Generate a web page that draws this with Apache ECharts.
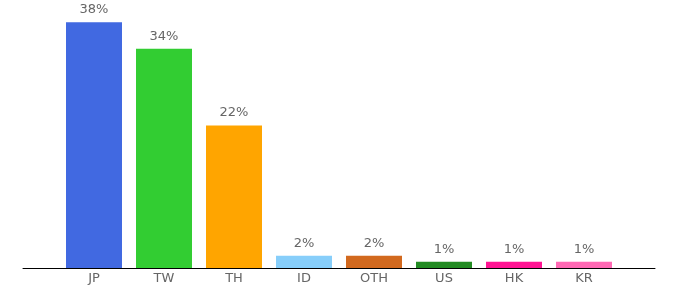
<!DOCTYPE html>
<html>
<head>
<meta charset="utf-8">
<script src="https://cdn.jsdelivr.net/npm/echarts@6/dist/echarts.min.js"></script>
<style>html,body{margin:0;padding:0;background:#fff}#c{width:680px;height:300px}</style>
</head>
<body>
<div id="c"></div>
<script>
const categories = ['JP', 'TW', 'TH', 'ID', 'OTH', 'US', 'HK', 'KR'];
const values = [38.1, 34, 22.1, 1.9, 1.9, 0.95, 0.95, 0.95];
const labels = ['38%', '34%', '22%', '2%', '2%', '1%', '1%', '1%'];
const colors = ['#4169E1', '#32CD32', '#FFA500', '#87CEFA', '#D2691E', '#228B22', '#FF1493', '#FF69B4'];

const chart = echarts.init(document.getElementById('c'), null, {renderer: 'canvas'});
const font = 'DejaVu Sans, Verdana, sans-serif';
chart.setOption({
  animation: false,
  grid: [
    {left: 59, right: 61, top: 10, bottom: 32},
    {left: 23, right: 25, top: 10, bottom: 32}
  ],
  xAxis: [
    {
      type: 'category', data: categories, gridIndex: 0,
      axisLine: {show: false}, axisTick: {show: false},
      axisLabel: {color: '#666', fontSize: 13, fontFamily: font, margin: 4}
    },
    {
      type: 'value', gridIndex: 1, min: 0, max: 1,
      axisLine: {show: true, lineStyle: {color: '#000', width: 1}},
      axisTick: {show: false}, axisLabel: {show: false}, splitLine: {show: false}
    }
  ],
  yAxis: [
    {type: 'value', gridIndex: 0, min: 0, max: 40, show: false},
    {type: 'value', gridIndex: 1, min: 0, max: 1, show: false}
  ],
  series: [{
    type: 'bar',
    xAxisIndex: 0, yAxisIndex: 0,
    barCategoryGap: '20%',
    data: values.map((v, i) => ({value: v, itemStyle: {color: colors[i]}})),
    label: {
      show: true, position: 'top', distance: 6,
      color: '#666', fontSize: 13, fontFamily: font,
      formatter: p => labels[p.dataIndex]
    }
  }]
});
</script>
</body>
</html>
